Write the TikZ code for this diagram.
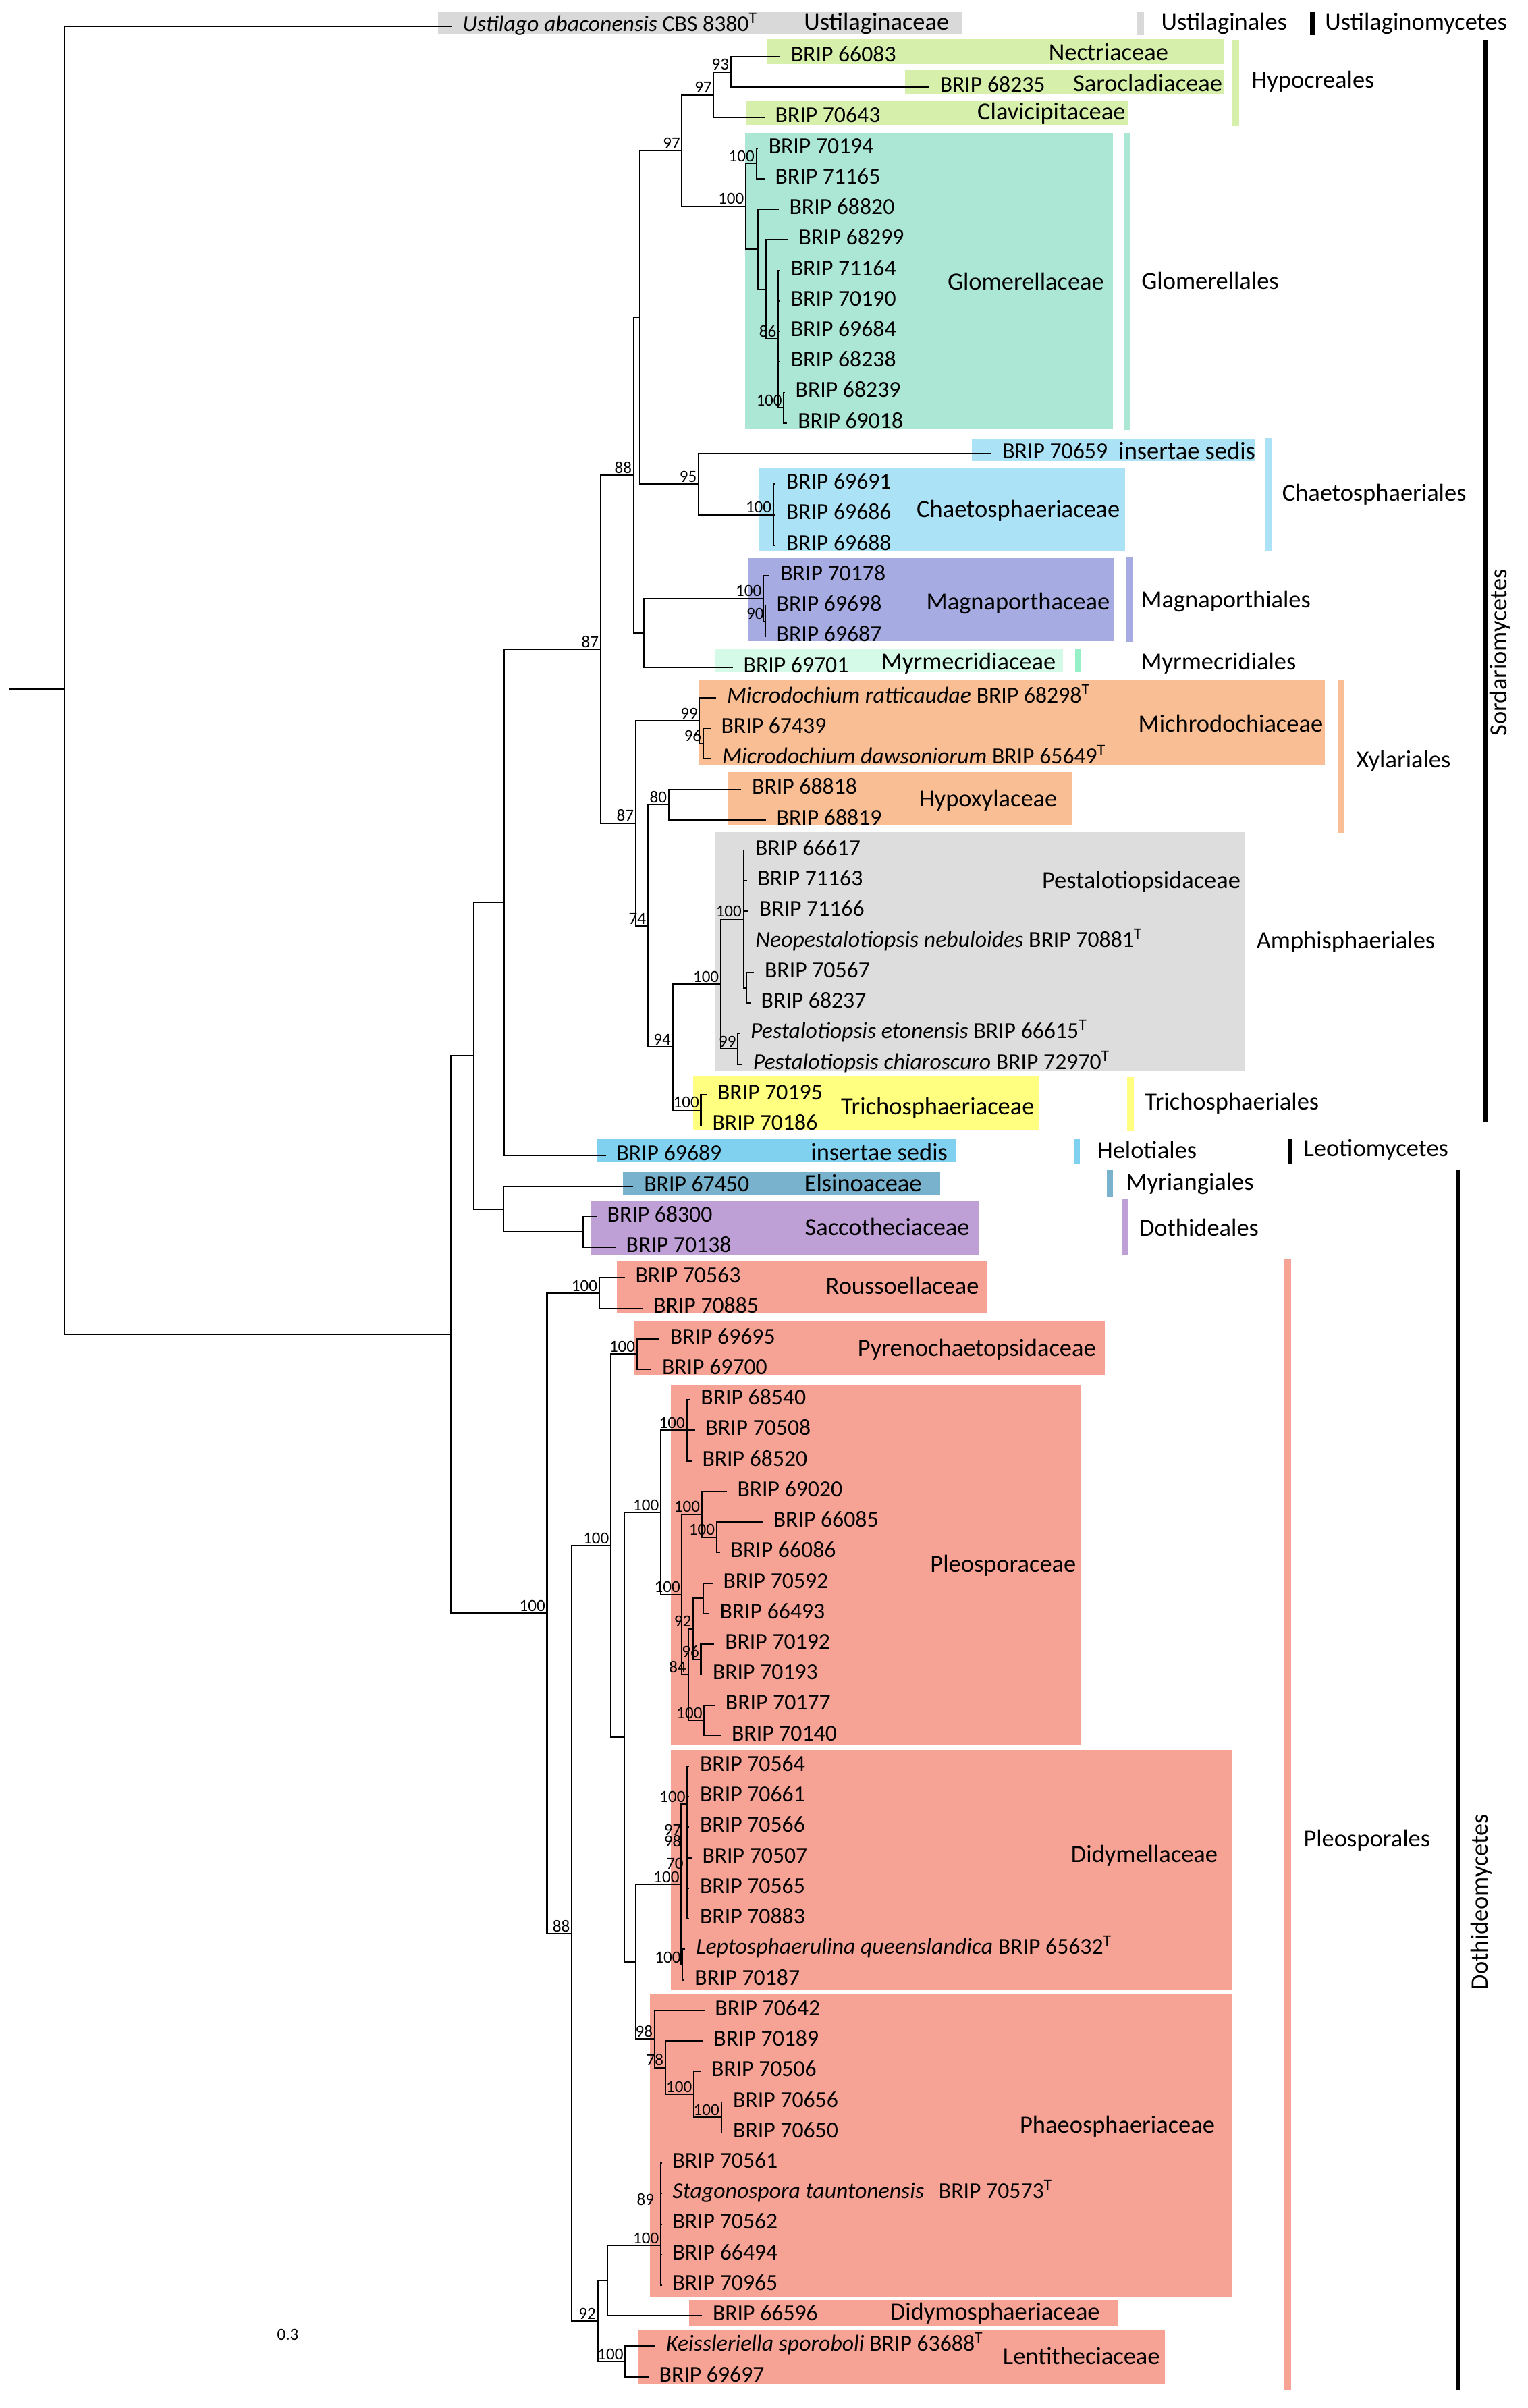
\documentclass[tikz,border=0pt]{standalone}
\usepackage{fontspec}
\setmainfont{Carlito}
\def\rw#1{17+19.84*(#1-1)}
\newcommand{\clade}[2]{\foreach \kid in {#2}{\draw[branch] (#1) |- (\kid);}}
\definecolor{ustigray}{RGB}{217,217,217}
\definecolor{hypogreen}{RGB}{214,239,170}
\definecolor{glomteal}{RGB}{172,230,212}
\definecolor{chaeblue}{RGB}{172,226,246}
\definecolor{magnblue}{RGB}{166,172,226}
\definecolor{myrmmint}{RGB}{214,250,232}
\definecolor{myrmbar}{RGB}{150,240,200}
\definecolor{xylorange}{RGB}{250,190,148}
\definecolor{pestgray}{RGB}{221,221,221}
\definecolor{trichyellow}{RGB}{255,255,128}
\definecolor{heloblue}{RGB}{128,208,240}
\definecolor{elsiblue}{RGB}{120,178,204}
\definecolor{sacpurple}{RGB}{190,160,214}
\definecolor{pleosalmon}{RGB}{246,162,148}
\tikzset{
  branch/.style={line width=0.9pt},
  tip/.style={anchor=west, inner xsep=0pt, outer xsep=7pt, inner ysep=0pt, text height=10pt, text depth=3.5pt, font=\fontsize{14.8}{16}\selectfont},
  boot/.style={inner sep=1pt, font=\fontsize{11}{12}\selectfont},
  famlbl/.style={anchor=east, inner sep=0pt, font=\fontsize{16}{18}\selectfont},
  ordlbl/.style={anchor=west, inner sep=0pt, font=\fontsize{16}{18}\selectfont},
}

\begin{document}
\begin{tikzpicture}[x=1pt, y=-1pt]
%%%%% START %%%%%
\path[use as bounding box, fill=white] (0,0) rectangle (993,1565);

% family boxes
\fill[ustigray] (284.7,7.8) rectangle (625,22.5);
\fill[hypogreen] (498.6,25.5) rectangle (795,41.5);
\fill[hypogreen] (588.4,45.4) rectangle (795,61.5);
\fill[hypogreen] (484.7,66) rectangle (733,81);
\fill[glomteal] (484.1,86.2) rectangle (723.4,279);
\fill[chaeblue] (631.8,284.9) rectangle (816,299.5);
\fill[chaeblue] (493.4,304.3) rectangle (731,358.5);
\fill[magnblue] (486,362.6) rectangle (724,416.9);
\fill[myrmmint] (464.7,421.8) rectangle (691,436.8);
\fill[xylorange] (454.6,442.3) rectangle (861,497);
\fill[xylorange] (473.4,501.8) rectangle (697,536.3);
\fill[pestgray] (464.7,541) rectangle (808.8,696.1);
\fill[trichyellow] (450.3,699.8) rectangle (675,734.3);
\fill[heloblue] (387.8,740.5) rectangle (621.7,755.2);
\fill[elsiblue] (404.7,761.7) rectangle (610.9,776.4);
\fill[sacpurple] (383.8,780.7) rectangle (636.1,815.3);
\fill[pleosalmon] (400.7,819.3) rectangle (641.1,853.7);
\fill[pleosalmon] (412.4,858.8) rectangle (718.2,893.9);
\fill[pleosalmon] (436.1,900) rectangle (702.8,1133.7);
\fill[pleosalmon] (436.1,1137.3) rectangle (800.7,1292.9);
\fill[pleosalmon] (422.3,1295.6) rectangle (800.7,1492.4);
\fill[pleosalmon] (447.8,1494.6) rectangle (726.7,1512);
\fill[pleosalmon] (414.9,1514.6) rectangle (757.2,1549.3);

% order and class bars
\fill[ustigray] (739,8) rectangle (743.5,23);
\fill[hypogreen] (800.6,26) rectangle (805.3,81.6);
\fill[glomteal] (730.5,86.6) rectangle (734.8,279.4);
\fill[chaeblue] (822,284.5) rectangle (826.7,358.5);
\fill[magnblue] (732.2,362.5) rectangle (736.5,417);
\fill[myrmbar] (698.5,422) rectangle (702.5,437);
\fill[xylorange] (869.4,442) rectangle (873.7,541.3);
\fill[trichyellow] (732.5,700) rectangle (736.8,735);
\fill[heloblue] (698,740) rectangle (702,756);
\fill[elsiblue] (719.2,760) rectangle (723.1,778);
\fill[sacpurple] (728.8,779) rectangle (733.1,815.8);
\fill[pleosalmon] (834.8,818.4) rectangle (838.9,1553.2);
\fill[black] (851.3,8) rectangle (854.3,23);
\fill[black] (963.5,26) rectangle (966.5,729);
\fill[black] (837,740) rectangle (840,756);
\fill[black] (945.9,760.3) rectangle (948.8,1553);

% leaves
\node[tip] (t1) at (293.7,{\rw{1}}) {\textit{Ustilago abaconensis} CBS 8380\textsuperscript{T}};
\node[tip] (t2) at (507,{\rw{2}}) {BRIP 66083};
\node[tip] (t3) at (603.9,{\rw{3}}) {BRIP 68235};
\node[tip] (t4) at (496.8,{\rw{4}}) {BRIP 70643};
\node[tip] (t5) at (492.5,{\rw{5}}) {BRIP 70194};
\node[tip] (t6) at (496.8,{\rw{6}}) {BRIP 71165};
\node[tip] (t7) at (506,{\rw{7}}) {BRIP 68820};
\node[tip] (t8) at (512.2,{\rw{8}}) {BRIP 68299};
\node[tip] (t9) at (507,{\rw{9}}) {BRIP 71164};
\node[tip] (t10) at (507,{\rw{10}}) {BRIP 70190};
\node[tip] (t11) at (507,{\rw{11}}) {BRIP 69684};
\node[tip] (t12) at (507,{\rw{12}}) {BRIP 68238};
\node[tip] (t13) at (510,{\rw{13}}) {BRIP 68239};
\node[tip] (t14) at (511.6,{\rw{14}}) {BRIP 69018};
\node[tip] (t15) at (644.5,{\rw{15}}) {BRIP 70659};
\node[tip] (t16) at (503.9,{\rw{16}}) {BRIP 69691};
\node[tip] (t17) at (503.9,{\rw{17}}) {BRIP 69686};
\node[tip] (t18) at (503.9,{\rw{18}}) {BRIP 69688};
\node[tip] (t19) at (500.2,{\rw{19}}) {BRIP 70178};
\node[tip] (t20) at (497.7,{\rw{20}}) {BRIP 69698};
\node[tip] (t21) at (497.7,{\rw{21}}) {BRIP 69687};
\node[tip] (t22) at (476.2,{\rw{22}}) {BRIP 69701};
\node[tip] (t23) at (465.4,{\rw{23}}) {\textit{Microdochium ratticaudae} BRIP 68298\textsuperscript{T}};
\node[tip] (t24) at (461.7,{\rw{24}}) {BRIP 67439};
\node[tip] (t25) at (462.4,{\rw{25}}) {\textit{Microdochium dawsoniorum} BRIP 65649\textsuperscript{T}};
\node[tip] (t26) at (481.7,{\rw{26}}) {BRIP 68818};
\node[tip] (t27) at (497.7,{\rw{27}}) {BRIP 68819};
\node[tip] (t28) at (483.9,{\rw{28}}) {BRIP 66617};
\node[tip] (t29) at (485.4,{\rw{29}}) {BRIP 71163};
\node[tip] (t30) at (486.4,{\rw{30}}) {BRIP 71166};
\node[tip] (t31) at (484,{\rw{31}}) {\textit{Neopestalotiopsis nebuloides} BRIP 70881\textsuperscript{T}};
\node[tip] (t32) at (490,{\rw{32}}) {BRIP 70567};
\node[tip] (t33) at (487.6,{\rw{33}}) {BRIP 68237};
\node[tip] (t34) at (480.8,{\rw{34}}) {\textit{Pestalotiopsis etonensis} BRIP 66615\textsuperscript{T}};
\node[tip] (t35) at (482.4,{\rw{35}}) {\textit{Pestalotiopsis chiaroscuro} BRIP 72970\textsuperscript{T}};
\node[tip] (t36) at (459.3,{\rw{36}}) {BRIP 70195};
\node[tip] (t37) at (456,{\rw{37}}) {BRIP 70186};
\node[tip] (t38) at (393.7,{\rw{38}}) {BRIP 69689};
\node[tip] (t39) at (411.6,{\rw{39}}) {BRIP 67450};
\node[tip] (t40) at (387.6,{\rw{40}}) {BRIP 68300};
\node[tip] (t41) at (399.9,{\rw{41}}) {BRIP 70138};
\node[tip] (t42) at (406,{\rw{42}}) {BRIP 70563};
\node[tip] (t43) at (417.7,{\rw{43}}) {BRIP 70885};
\node[tip] (t44) at (428.5,{\rw{44}}) {BRIP 69695};
\node[tip] (t45) at (423.3,{\rw{45}}) {BRIP 69700};
\node[tip] (t46) at (448.5,{\rw{46}}) {BRIP 68540};
\node[tip] (t47) at (451.6,{\rw{47}}) {BRIP 70508};
\node[tip] (t48) at (449.4,{\rw{48}}) {BRIP 68520};
\node[tip] (t49) at (472.2,{\rw{49}}) {BRIP 69020};
\node[tip] (t50) at (495.6,{\rw{50}}) {BRIP 66085};
\node[tip] (t51) at (467.9,{\rw{51}}) {BRIP 66086};
\node[tip] (t52) at (463,{\rw{52}}) {BRIP 70592};
\node[tip] (t53) at (460.8,{\rw{53}}) {BRIP 66493};
\node[tip] (t54) at (464.2,{\rw{54}}) {BRIP 70192};
\node[tip] (t55) at (456.2,{\rw{55}}) {BRIP 70193};
\node[tip] (t56) at (464.5,{\rw{56}}) {BRIP 70177};
\node[tip] (t57) at (468.5,{\rw{57}}) {BRIP 70140};
\node[tip] (t58) at (447.9,{\rw{58}}) {BRIP 70564};
\node[tip] (t59) at (447.9,{\rw{59}}) {BRIP 70661};
\node[tip] (t60) at (447.9,{\rw{60}}) {BRIP 70566};
\node[tip] (t61) at (449.4,{\rw{61}}) {BRIP 70507};
\node[tip] (t62) at (447.9,{\rw{62}}) {BRIP 70565};
\node[tip] (t63) at (447.9,{\rw{63}}) {BRIP 70883};
\node[tip] (t64) at (445.4,{\rw{64}}) {\textit{Leptosphaerulina queenslandica} BRIP 65632\textsuperscript{T}};
\node[tip] (t65) at (444.5,{\rw{65}}) {BRIP 70187};
\node[tip] (t66) at (457.7,{\rw{66}}) {BRIP 70642};
\node[tip] (t67) at (456.8,{\rw{67}}) {BRIP 70189};
\node[tip] (t68) at (455.3,{\rw{68}}) {BRIP 70506};
\node[tip] (t69) at (469.4,{\rw{69}}) {BRIP 70656};
\node[tip] (t70) at (469.4,{\rw{70}}) {BRIP 70650};
\node[tip] (t71) at (430.1,{\rw{71}}) {BRIP 70561};
\node[tip] (t72) at (430.1,{\rw{72}}) {\makebox[173pt][l]{\textit{Stagonospora tauntonensis}}BRIP 70573\textsuperscript{T}};
\node[tip] (t73) at (430.1,{\rw{73}}) {BRIP 70562};
\node[tip] (t74) at (430.1,{\rw{74}}) {BRIP 66494};
\node[tip] (t75) at (430.1,{\rw{75}}) {BRIP 70965};
\node[tip] (t76) at (456.2,{\rw{76}}) {BRIP 66596};
\node[tip] (t77) at (426,{\rw{77}}) {\textit{Keissleriella sporoboli} BRIP 63688\textsuperscript{T}};
\node[tip] (t78) at (421.4,{\rw{78}}) {BRIP 69697};

% inner nodes
\coordinate (stub) at (6,{\rw{22.71}});
\coordinate (root) at (42.1,{\rw{22.71}});
\coordinate (A) at (293,{\rw{43.86}});
\coordinate (B) at (308,{\rw{34.72}});
\coordinate (C) at (327.5,{\rw{29.7}});
\coordinate (D) at (327,{\rw{39.75}});
\coordinate (SC) at (379,{\rw{40.5}});
\coordinate[label={[boot]above left:87}] (E) at (390.3,{\rw{21.41}});
\coordinate[label={[boot]above left:88}] (F) at (411.8,{\rw{15.71}});
\coordinate (G) at (416,{\rw{10.54}});
\coordinate[label={[boot]above left:97}] (I) at (443.2,{\rw{5.078}});
\coordinate[label={[boot]above left:97}] (K) at (463.8,{\rw{3.25}});
\coordinate[label={[boot]above left:93}] (M) at (474.9,{\rw{2.5}});
\coordinate[label={[boot]above left:100}] (L) at (484.7,{\rw{6.906}});
\coordinate[label={[boot]above left:100}] (N) at (491.5,{\rw{5.5}});
\coordinate (O) at (492.4,{\rw{8.3125}});
\coordinate (P) at (497.7,{\rw{9.625}});
\coordinate[label={[boot]above left:86}] (Q) at (505.7,{\rw{11.25}});
\coordinate[label={[boot]above left:100}] (R) at (509.4,{\rw{13.5}});
\coordinate[label={[boot]above left:95}] (J) at (454,{\rw{16}});
\coordinate[label={[boot]above left:100}] (S) at (502.6,{\rw{17}});
\coordinate (H) at (418.6,{\rw{20.875}});
\coordinate[label={[boot]above left:100}] (T) at (496.1,{\rw{19.75}});
\coordinate[label={[boot]above left:90}] (U) at (497.5,{\rw{20.5}});
\coordinate[label={[boot]above left:87}] (X) at (413.1,{\rw{27.11}});
\coordinate[label={[boot]above left:99}] (V) at (454.6,{\rw{23.75}});
\coordinate[label={[boot]above left:96}] (AA) at (457,{\rw{24.5}});
\coordinate[label={[boot]above left:74}] (W) at (421,{\rw{30.47}});
\coordinate[label={[boot]above left:80}] (Z) at (434.6,{\rw{26.5}});
\coordinate[label={[boot]above left:94}] (Y) at (437.1,{\rw{34.44}});
\coordinate[label={[boot]above left:100}] (AB) at (468.4,{\rw{32.375}});
\coordinate[label={[boot]above left:100}] (AD) at (483.2,{\rw{30.25}});
\coordinate (AF) at (485.3,{\rw{32.5}});
\coordinate[label={[boot]above left:99}] (AE) at (479.5,{\rw{34.5}});
\coordinate[label={[boot]above left:100}] (AC) at (455.5,{\rw{36.5}});
\coordinate[label={[boot]above left:100}] (AG) at (355.5,{\rw{52.99}});
\coordinate[label={[boot]above left:100}] (AI) at (389.4,{\rw{42.5}});
\coordinate[label={[boot]above left:88}] (AH) at (371.5,{\rw{63.48}});
\coordinate[label={[boot]above left:100}] (AJ) at (397,{\rw{50.78}});
\coordinate[label={[boot]above left:100}] (AL) at (414,{\rw{44.5}});
\coordinate (AM) at (405.7,{\rw{57.05}});
\coordinate[label={[boot]above left:100}] (AN) at (429.4,{\rw{49.69}});
\coordinate[label={[boot]above left:100}] (AR) at (446.3,{\rw{47}});
\coordinate[label={[boot]above left:100}] (AS) at (443.2,{\rw{52.375}});
\coordinate[label={[boot]above left:100}] (AT) at (456.1,{\rw{49.75}});
\coordinate[label={[boot]above left:100}] (AV) at (465.7,{\rw{50.5}});
\coordinate[label={[boot]above left:84}] (AU) at (447.2,{\rw{55}});
\coordinate[label={[boot]above left:92}] (AW) at (450.5,{\rw{53.5}});
\coordinate (AY) at (457,{\rw{52.5}});
\coordinate[label={[boot]above left:96}] (AZ) at (455.5,{\rw{54.5}});
\coordinate[label={[boot]above left:100}] (AX) at (457.6,{\rw{56.5}});
\coordinate (AO) at (413.1,{\rw{64.4}});
\coordinate[label={[boot]above left:100}] (AP) at (442.7,{\rw{61.87}});
\coordinate[label={[boot]above left:100}] (BA) at (446.6,{\rw{59.24}});
\coordinate[label={[boot]above left:100}] (BB) at (443.6,{\rw{64.5}});
\coordinate[label={[boot]above left:98}] (AQ) at (425.4,{\rw{66.94}});
\coordinate[label={[boot]above left:78}] (BI) at (432.4,{\rw{67.875}});
\coordinate[label={[boot]above left:100}] (BJ) at (450.9,{\rw{68.75}});
\coordinate[label={[boot]above left:100}] (BK) at (468.7,{\rw{69.5}});
\coordinate[label={[boot]above left:92}] (AK) at (388.4,{\rw{76.18}});
\coordinate (BF) at (394.6,{\rw{74.85}});
\coordinate[label={[boot]above left:100}] (BH) at (429.4,{\rw{73.7}});
\coordinate[label={[boot]above left:100}] (BG) at (406.3,{\rw{77.5}});
\node[boot] (b97) at (437.1,1189.3) {97};
\node[boot] (b98) at (437.1,1196.6) {98};
\node[boot] (b70) at (438.6,1211.2) {70};
\node[boot] (b89) at (419.5,1429.6) {89};

% branches
\draw[branch] (stub) -- (root);
\clade{root}{t1,A}
\clade{A}{B,AG}
\clade{B}{C,D}
\clade{C}{E,t38}
\clade{D}{t39,SC}
\clade{SC}{t40,t41}
\clade{E}{F,X}
\clade{F}{G,H}
\clade{G}{I,J}
\clade{I}{K,L}
\clade{K}{M,t4}
\clade{M}{t2,t3}
\clade{L}{N,O}
\clade{N}{t5,t6}
\clade{O}{t7,P}
\clade{P}{t8,Q}
\clade{Q}{t9,t10,t11,t12,R}
\clade{R}{t13,t14}
\clade{J}{t15,S}
\clade{S}{t16,t17,t18}
\clade{H}{T,t22}
\clade{T}{t19,U}
\clade{U}{t20,t21}
\clade{X}{V,W}
\clade{V}{t23,AA}
\clade{AA}{t24,t25}
\clade{W}{Z,Y}
\clade{Z}{t26,t27}
\clade{Y}{AB,AC}
\clade{AB}{AD,AE}
\clade{AD}{t28,t29,t30,t31,AF}
\clade{AF}{t32,t33}
\clade{AE}{t34,t35}
\clade{AC}{t36,t37}
\clade{AG}{AI,AH}
\clade{AI}{t42,t43}
\clade{AH}{AJ,AK}
\clade{AJ}{AL,AM}
\clade{AL}{t44,t45}
\clade{AM}{AN,AO}
\clade{AN}{AR,AS}
\clade{AR}{t46,t47,t48}
\clade{AS}{AT,AU}
\clade{AT}{t49,AV}
\clade{AV}{t50,t51}
\clade{AU}{AW,AX}
\clade{AW}{AY,AZ}
\clade{AY}{t52,t53}
\clade{AZ}{t54,t55}
\clade{AX}{t56,t57}
\clade{AO}{AP,AQ}
\clade{AP}{BA,BB}
\clade{BA}{t58,t59,t60,t61,t62,t63}
\clade{BB}{t64,t65}
\clade{AQ}{t66,BI}
\clade{BI}{t67,BJ}
\clade{BJ}{t68,BK}
\clade{BK}{t69,t70}
\clade{AK}{BF,BG}
\clade{BF}{BH,t76}
\clade{BH}{t71,t72,t73,t74,t75}
\clade{BG}{t77,t78}

% family names
\node[famlbl] (ustilag) at (617,15.5) {Ustilaginaceae};
\node[famlbl] (nectri) at (759.4,34) {Nectriaceae};
\node[famlbl] (sarocl) at (794.6,54) {Sarocladiaceae};
\node[famlbl] (clavic) at (731.6,73.5) {Clavicipitaceae};
\node[famlbl] (glomac) at (717.7,183) {Glomerellaceae};
\node[famlbl] (incchae) at (816,293) {insertae sedis};
\node[famlbl] (chaeac) at (728,332) {Chaetosphaeriaceae};
\node[famlbl] (magnac) at (721.4,392) {Magnaporthaceae};
\node[famlbl] (myrmac) at (686.3,431) {Myrmecridiaceae};
\node[famlbl] (microac) at (860,470) {Michrodochiaceae};
\node[famlbl] (hypoxac) at (687.2,520) {Hypoxylaceae};
\node[famlbl] (pestac) at (806.4,573) {Pestalotiopsidaceae};
\node[famlbl] (trichac) at (672.4,720) {Trichosphaeriaceae};
\node[famlbl] (inchelo) at (616,748.5) {insertae sedis};
\node[famlbl] (elsiac) at (599.2,769) {Elsinoaceae};
\node[famlbl] (saccac) at (630.3,797.3) {Saccotheciaceae};
\node[famlbl] (roussac) at (636.4,835.5) {Roussoellaceae};
\node[famlbl] (pyrenac) at (712.4,877) {Pyrenochaetopsidaceae};
\node[famlbl] (pleoac) at (699.5,1017.4) {Pleosporaceae};
\node[famlbl] (didymac) at (791.5,1206) {Didymellaceae};
\node[famlbl] (phaeoac) at (789.7,1382) {Phaeosphaeriaceae};
\node[famlbl] (didmosac) at (715,1503.3) {Didymosphaeriaceae};
\node[famlbl] (lentiac) at (754,1531.3) {Lentitheciaceae};

% orders and classes
\node[ordlbl] (ustord) at (754.5,15.5) {Ustilaginales};
\node[ordlbl] (ustcls) at (861,15.5) {Ustilaginomycetes};
\node[ordlbl] (hypord) at (813.3,53) {Hypocreales};
\node[ordlbl] (glomord) at (741.7,182.5) {Glomerellales};
\node[ordlbl] (chaeord) at (833.1,321.5) {Chaetosphaeriales};
\node[ordlbl] (magnord) at (741.2,391) {Magnaporthiales};
\node[ordlbl] (myrmord) at (741.2,431) {Myrmecridiales};
\node[ordlbl] (xylord) at (881.2,494.5) {Xylariales};
\node[ordlbl] (amphord) at (816.4,612) {Amphisphaeriales};
\node[ordlbl] (trichord) at (743.8,717) {Trichosphaeriales};
\node[ordlbl] (heloord) at (713,747.5) {Helotiales};
\node[ordlbl] (leocls) at (847,747.5) {Leotiomycetes};
\node[ordlbl] (myriord) at (731.6,769.5) {Myriangiales};
\node[ordlbl] (dothord) at (740.2,798) {Dothideales};
\node[ordlbl] (pleoord) at (847,1196) {Pleosporales};
\node[rotate=90, inner sep=0pt, font=\fontsize{16}{18}\selectfont] (sordcls) at (975,424) {Sordariomycetes};
\node[rotate=90, inner sep=0pt, font=\fontsize{16}{18}\selectfont] (dothcls) at (962.5,1236) {Dothideomycetes};

% scale bar
\coordinate (sbl) at (131.6,1503.8);
\coordinate (sbr) at (242.7,1503.8);
\draw[line width=0.8pt] (sbl) -- (sbr);
\node[inner sep=0pt, font=\fontsize{11}{12}\selectfont] (sblab) at (187.1,1517.5) {0.3};
%%%%% END %%%%%
\end{tikzpicture}
\end{document}
